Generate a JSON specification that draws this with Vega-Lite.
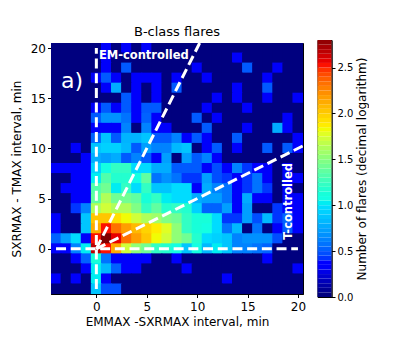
{"$schema":"https://vega.github.io/schema/vega-lite/v6.json","padding":{"left":9,"top":25,"right":0,"bottom":0},"background":"white","spacing":14.5,"center":true,"bounds":"flush","config":{"font":"DejaVu Sans","view":{"stroke":"black","strokeWidth":1}},"datasets":{"cells":[
{"x":-4,"y":20,"v":0},{"x":-3,"y":20,"v":0},{"x":-2,"y":20,"v":0},{"x":-1,"y":20,"v":0},{"x":0,"y":20,"v":0},{"x":1,"y":20,"v":0.3},{"x":2,"y":20,"v":0},{"x":3,"y":20,"v":0.3},{"x":4,"y":20,"v":0},{"x":5,"y":20,"v":0.3},{"x":6,"y":20,"v":0},{"x":7,"y":20,"v":0},{"x":8,"y":20,"v":0},{"x":9,"y":20,"v":0},{"x":10,"y":20,"v":0},{"x":11,"y":20,"v":0},{"x":12,"y":20,"v":0},{"x":13,"y":20,"v":0},{"x":14,"y":20,"v":0},{"x":15,"y":20,"v":0},{"x":16,"y":20,"v":0},{"x":17,"y":20,"v":0},{"x":18,"y":20,"v":0},{"x":19,"y":20,"v":0},{"x":20,"y":20,"v":0},
{"x":-4,"y":19,"v":0},{"x":-3,"y":19,"v":0},{"x":-2,"y":19,"v":0},{"x":-1,"y":19,"v":0},{"x":0,"y":19,"v":0},{"x":1,"y":19,"v":0.3},{"x":2,"y":19,"v":0},{"x":3,"y":19,"v":0},{"x":4,"y":19,"v":0},{"x":5,"y":19,"v":0},{"x":6,"y":19,"v":0},{"x":7,"y":19,"v":0},{"x":8,"y":19,"v":0},{"x":9,"y":19,"v":0},{"x":10,"y":19,"v":0},{"x":11,"y":19,"v":0},{"x":12,"y":19,"v":0},{"x":13,"y":19,"v":0},{"x":14,"y":19,"v":0.3},{"x":15,"y":19,"v":0},{"x":16,"y":19,"v":0},{"x":17,"y":19,"v":0},{"x":18,"y":19,"v":0},{"x":19,"y":19,"v":0},{"x":20,"y":19,"v":0},
{"x":-4,"y":18,"v":0},{"x":-3,"y":18,"v":0},{"x":-2,"y":18,"v":0},{"x":-1,"y":18,"v":0},{"x":0,"y":18,"v":0},{"x":1,"y":18,"v":0.3},{"x":2,"y":18,"v":0},{"x":3,"y":18,"v":0.48},{"x":4,"y":18,"v":0},{"x":5,"y":18,"v":0},{"x":6,"y":18,"v":0},{"x":7,"y":18,"v":0},{"x":8,"y":18,"v":0},{"x":9,"y":18,"v":0},{"x":10,"y":18,"v":0.3},{"x":11,"y":18,"v":0},{"x":12,"y":18,"v":0},{"x":13,"y":18,"v":0},{"x":14,"y":18,"v":0},{"x":15,"y":18,"v":0.48},{"x":16,"y":18,"v":0},{"x":17,"y":18,"v":0},{"x":18,"y":18,"v":0.3},{"x":19,"y":18,"v":0},{"x":20,"y":18,"v":0},
{"x":-4,"y":17,"v":0},{"x":-3,"y":17,"v":0},{"x":-2,"y":17,"v":0},{"x":-1,"y":17,"v":0},{"x":0,"y":17,"v":0.3},{"x":1,"y":17,"v":0.48},{"x":2,"y":17,"v":0.3},{"x":3,"y":17,"v":0},{"x":4,"y":17,"v":0.3},{"x":5,"y":17,"v":0.3},{"x":6,"y":17,"v":0.3},{"x":7,"y":17,"v":0},{"x":8,"y":17,"v":0.3},{"x":9,"y":17,"v":0},{"x":10,"y":17,"v":0},{"x":11,"y":17,"v":0.3},{"x":12,"y":17,"v":0},{"x":13,"y":17,"v":0},{"x":14,"y":17,"v":0},{"x":15,"y":17,"v":0},{"x":16,"y":17,"v":0},{"x":17,"y":17,"v":0.3},{"x":18,"y":17,"v":0},{"x":19,"y":17,"v":0},{"x":20,"y":17,"v":0},
{"x":-4,"y":16,"v":0},{"x":-3,"y":16,"v":0},{"x":-2,"y":16,"v":0},{"x":-1,"y":16,"v":0},{"x":0,"y":16,"v":0},{"x":1,"y":16,"v":0.3},{"x":2,"y":16,"v":0.75},{"x":3,"y":16,"v":0},{"x":4,"y":16,"v":0.3},{"x":5,"y":16,"v":0},{"x":6,"y":16,"v":0.3},{"x":7,"y":16,"v":0},{"x":8,"y":16,"v":0.48},{"x":9,"y":16,"v":0},{"x":10,"y":16,"v":0},{"x":11,"y":16,"v":0},{"x":12,"y":16,"v":0},{"x":13,"y":16,"v":0},{"x":14,"y":16,"v":0.3},{"x":15,"y":16,"v":0},{"x":16,"y":16,"v":0},{"x":17,"y":16,"v":0.48},{"x":18,"y":16,"v":0},{"x":19,"y":16,"v":0},{"x":20,"y":16,"v":0},
{"x":-4,"y":15,"v":0},{"x":-3,"y":15,"v":0},{"x":-2,"y":15,"v":0},{"x":-1,"y":15,"v":0},{"x":0,"y":15,"v":0},{"x":1,"y":15,"v":0},{"x":2,"y":15,"v":0},{"x":3,"y":15,"v":0.48},{"x":4,"y":15,"v":0.3},{"x":5,"y":15,"v":0},{"x":6,"y":15,"v":0.3},{"x":7,"y":15,"v":0},{"x":8,"y":15,"v":0},{"x":9,"y":15,"v":0},{"x":10,"y":15,"v":0},{"x":11,"y":15,"v":0},{"x":12,"y":15,"v":0.3},{"x":13,"y":15,"v":0},{"x":14,"y":15,"v":0.3},{"x":15,"y":15,"v":0},{"x":16,"y":15,"v":0},{"x":17,"y":15,"v":0.3},{"x":18,"y":15,"v":0},{"x":19,"y":15,"v":0},{"x":20,"y":15,"v":0.3},
{"x":-4,"y":14,"v":0},{"x":-3,"y":14,"v":0},{"x":-2,"y":14,"v":0},{"x":-1,"y":14,"v":0},{"x":0,"y":14,"v":0.3},{"x":1,"y":14,"v":0.48},{"x":2,"y":14,"v":0.3},{"x":3,"y":14,"v":0.48},{"x":4,"y":14,"v":0.3},{"x":5,"y":14,"v":0.48},{"x":6,"y":14,"v":0.48},{"x":7,"y":14,"v":0},{"x":8,"y":14,"v":0},{"x":9,"y":14,"v":0},{"x":10,"y":14,"v":0},{"x":11,"y":14,"v":0.3},{"x":12,"y":14,"v":0},{"x":13,"y":14,"v":0},{"x":14,"y":14,"v":0},{"x":15,"y":14,"v":0.3},{"x":16,"y":14,"v":0},{"x":17,"y":14,"v":0},{"x":18,"y":14,"v":0},{"x":19,"y":14,"v":0},{"x":20,"y":14,"v":0},
{"x":-4,"y":13,"v":0},{"x":-3,"y":13,"v":0},{"x":-2,"y":13,"v":0},{"x":-1,"y":13,"v":0},{"x":0,"y":13,"v":0.48},{"x":1,"y":13,"v":0.65},{"x":2,"y":13,"v":0.65},{"x":3,"y":13,"v":0.55},{"x":4,"y":13,"v":0.3},{"x":5,"y":13,"v":0.5},{"x":6,"y":13,"v":0.3},{"x":7,"y":13,"v":0},{"x":8,"y":13,"v":0},{"x":9,"y":13,"v":0},{"x":10,"y":13,"v":0.48},{"x":11,"y":13,"v":0},{"x":12,"y":13,"v":0.3},{"x":13,"y":13,"v":0},{"x":14,"y":13,"v":0},{"x":15,"y":13,"v":0},{"x":16,"y":13,"v":0},{"x":17,"y":13,"v":0},{"x":18,"y":13,"v":0},{"x":19,"y":13,"v":0.3},{"x":20,"y":13,"v":0},
{"x":-4,"y":12,"v":0},{"x":-3,"y":12,"v":0},{"x":-2,"y":12,"v":0},{"x":-1,"y":12,"v":0},{"x":0,"y":12,"v":0.3},{"x":1,"y":12,"v":0.3},{"x":2,"y":12,"v":0.3},{"x":3,"y":12,"v":0.6},{"x":4,"y":12,"v":0},{"x":5,"y":12,"v":0.6},{"x":6,"y":12,"v":0.3},{"x":7,"y":12,"v":0.3},{"x":8,"y":12,"v":0},{"x":9,"y":12,"v":0},{"x":10,"y":12,"v":0},{"x":11,"y":12,"v":0.48},{"x":12,"y":12,"v":0},{"x":13,"y":12,"v":0},{"x":14,"y":12,"v":0},{"x":15,"y":12,"v":0.3},{"x":16,"y":12,"v":0},{"x":17,"y":12,"v":0},{"x":18,"y":12,"v":0.75},{"x":19,"y":12,"v":0.3},{"x":20,"y":12,"v":0},
{"x":-4,"y":11,"v":0},{"x":-3,"y":11,"v":0},{"x":-2,"y":11,"v":0},{"x":-1,"y":11,"v":0},{"x":0,"y":11,"v":0.5},{"x":1,"y":11,"v":0.85},{"x":2,"y":11,"v":0.48},{"x":3,"y":11,"v":0.78},{"x":4,"y":11,"v":0.78},{"x":5,"y":11,"v":0.85},{"x":6,"y":11,"v":0.48},{"x":7,"y":11,"v":0.48},{"x":8,"y":11,"v":0.6},{"x":9,"y":11,"v":0.3},{"x":10,"y":11,"v":0.48},{"x":11,"y":11,"v":0.3},{"x":12,"y":11,"v":0},{"x":13,"y":11,"v":0},{"x":14,"y":11,"v":0.48},{"x":15,"y":11,"v":0},{"x":16,"y":11,"v":0},{"x":17,"y":11,"v":0},{"x":18,"y":11,"v":0},{"x":19,"y":11,"v":0},{"x":20,"y":11,"v":0.3},
{"x":-4,"y":10,"v":0},{"x":-3,"y":10,"v":0},{"x":-2,"y":10,"v":0.3},{"x":-1,"y":10,"v":0},{"x":0,"y":10,"v":0.85},{"x":1,"y":10,"v":0.9},{"x":2,"y":10,"v":0.9},{"x":3,"y":10,"v":0.8},{"x":4,"y":10,"v":0.48},{"x":5,"y":10,"v":0.7},{"x":6,"y":10,"v":0.6},{"x":7,"y":10,"v":0.6},{"x":8,"y":10,"v":0.8},{"x":9,"y":10,"v":0.85},{"x":10,"y":10,"v":0},{"x":11,"y":10,"v":0.3},{"x":12,"y":10,"v":0.48},{"x":13,"y":10,"v":0},{"x":14,"y":10,"v":0.3},{"x":15,"y":10,"v":0},{"x":16,"y":10,"v":0},{"x":17,"y":10,"v":0.48},{"x":18,"y":10,"v":0},{"x":19,"y":10,"v":0.48},{"x":20,"y":10,"v":0.3},
{"x":-4,"y":9,"v":0},{"x":-3,"y":9,"v":0},{"x":-2,"y":9,"v":0},{"x":-1,"y":9,"v":0.3},{"x":0,"y":9,"v":0.75},{"x":1,"y":9,"v":0.7},{"x":2,"y":9,"v":0.75},{"x":3,"y":9,"v":0.48},{"x":4,"y":9,"v":0.6},{"x":5,"y":9,"v":0.48},{"x":6,"y":9,"v":0.3},{"x":7,"y":9,"v":0.7},{"x":8,"y":9,"v":0},{"x":9,"y":9,"v":0.7},{"x":10,"y":9,"v":0.48},{"x":11,"y":9,"v":0.6},{"x":12,"y":9,"v":0.3},{"x":13,"y":9,"v":0},{"x":14,"y":9,"v":0},{"x":15,"y":9,"v":0},{"x":16,"y":9,"v":0},{"x":17,"y":9,"v":0},{"x":18,"y":9,"v":0},{"x":19,"y":9,"v":0},{"x":20,"y":9,"v":0},
{"x":-4,"y":8,"v":0.3},{"x":-3,"y":8,"v":0.3},{"x":-2,"y":8,"v":0.3},{"x":-1,"y":8,"v":0.3},{"x":0,"y":8,"v":0.9},{"x":1,"y":8,"v":1.05},{"x":2,"y":8,"v":1.2},{"x":3,"y":8,"v":1.2},{"x":4,"y":8,"v":0.95},{"x":5,"y":8,"v":0.95},{"x":6,"y":8,"v":0.75},{"x":7,"y":8,"v":0.75},{"x":8,"y":8,"v":0.48},{"x":9,"y":8,"v":0.48},{"x":10,"y":8,"v":0.48},{"x":11,"y":8,"v":0.3},{"x":12,"y":8,"v":0.45},{"x":13,"y":8,"v":0.3},{"x":14,"y":8,"v":0.6},{"x":15,"y":8,"v":0.4},{"x":16,"y":8,"v":0.35},{"x":17,"y":8,"v":0.3},{"x":18,"y":8,"v":0},{"x":19,"y":8,"v":0.3},{"x":20,"y":8,"v":0},
{"x":-4,"y":7,"v":0},{"x":-3,"y":7,"v":0},{"x":-2,"y":7,"v":0.3},{"x":-1,"y":7,"v":0.3},{"x":0,"y":7,"v":1.0},{"x":1,"y":7,"v":1.3},{"x":2,"y":7,"v":1.15},{"x":3,"y":7,"v":1.15},{"x":4,"y":7,"v":1.05},{"x":5,"y":7,"v":1.35},{"x":6,"y":7,"v":0.55},{"x":7,"y":7,"v":0.65},{"x":8,"y":7,"v":0.55},{"x":9,"y":7,"v":0.4},{"x":10,"y":7,"v":0.4},{"x":11,"y":7,"v":0.7},{"x":12,"y":7,"v":0.45},{"x":13,"y":7,"v":0.4},{"x":14,"y":7,"v":0.3},{"x":15,"y":7,"v":0.4},{"x":16,"y":7,"v":0.55},{"x":17,"y":7,"v":0.3},{"x":18,"y":7,"v":0},{"x":19,"y":7,"v":0.3},{"x":20,"y":7,"v":0.3},
{"x":-4,"y":6,"v":0},{"x":-3,"y":6,"v":0.3},{"x":-2,"y":6,"v":0.3},{"x":-1,"y":6,"v":0.3},{"x":0,"y":6,"v":1.3},{"x":1,"y":6,"v":1.4},{"x":2,"y":6,"v":1.0},{"x":3,"y":6,"v":1.2},{"x":4,"y":6,"v":0.95},{"x":5,"y":6,"v":1.2},{"x":6,"y":6,"v":0.85},{"x":7,"y":6,"v":0.85},{"x":8,"y":6,"v":0.95},{"x":9,"y":6,"v":0.95},{"x":10,"y":6,"v":0.3},{"x":11,"y":6,"v":0.75},{"x":12,"y":6,"v":0.6},{"x":13,"y":6,"v":0.55},{"x":14,"y":6,"v":0.3},{"x":15,"y":6,"v":0.4},{"x":16,"y":6,"v":0.55},{"x":17,"y":6,"v":0.4},{"x":18,"y":6,"v":0},{"x":19,"y":6,"v":0.3},{"x":20,"y":6,"v":0},
{"x":-4,"y":5,"v":0},{"x":-3,"y":5,"v":0},{"x":-2,"y":5,"v":0.3},{"x":-1,"y":5,"v":0.3},{"x":0,"y":5,"v":1.35},{"x":1,"y":5,"v":1.6},{"x":2,"y":5,"v":1.4},{"x":3,"y":5,"v":1.4},{"x":4,"y":5,"v":1.35},{"x":5,"y":5,"v":1.1},{"x":6,"y":5,"v":1.2},{"x":7,"y":5,"v":1.0},{"x":8,"y":5,"v":0.95},{"x":9,"y":5,"v":0.95},{"x":10,"y":5,"v":0.75},{"x":11,"y":5,"v":0.7},{"x":12,"y":5,"v":0.7},{"x":13,"y":5,"v":0.55},{"x":14,"y":5,"v":0.3},{"x":15,"y":5,"v":0.75},{"x":16,"y":5,"v":0.3},{"x":17,"y":5,"v":0.3},{"x":18,"y":5,"v":0},{"x":19,"y":5,"v":0.3},{"x":20,"y":5,"v":0.3},
{"x":-4,"y":4,"v":0},{"x":-3,"y":4,"v":0},{"x":-2,"y":4,"v":0.4},{"x":-1,"y":4,"v":0.6},{"x":0,"y":4,"v":1.6},{"x":1,"y":4,"v":1.7},{"x":2,"y":4,"v":1.6},{"x":3,"y":4,"v":1.6},{"x":4,"y":4,"v":1.45},{"x":5,"y":4,"v":1.2},{"x":6,"y":4,"v":1.35},{"x":7,"y":4,"v":1.15},{"x":8,"y":4,"v":1.2},{"x":9,"y":4,"v":1.15},{"x":10,"y":4,"v":0.9},{"x":11,"y":4,"v":0.5},{"x":12,"y":4,"v":0.5},{"x":13,"y":4,"v":0.7},{"x":14,"y":4,"v":0.3},{"x":15,"y":4,"v":0.7},{"x":16,"y":4,"v":0},{"x":17,"y":4,"v":0},{"x":18,"y":4,"v":0.4},{"x":19,"y":4,"v":0.3},{"x":20,"y":4,"v":0.3},
{"x":-4,"y":3,"v":0.3},{"x":-3,"y":3,"v":0},{"x":-2,"y":3,"v":0},{"x":-1,"y":3,"v":0.85},{"x":0,"y":3,"v":2.0},{"x":1,"y":3,"v":2.0},{"x":2,"y":3,"v":1.9},{"x":3,"y":3,"v":1.8},{"x":4,"y":3,"v":1.7},{"x":5,"y":3,"v":1.6},{"x":6,"y":3,"v":1.55},{"x":7,"y":3,"v":1.45},{"x":8,"y":3,"v":1.4},{"x":9,"y":3,"v":1.2},{"x":10,"y":3,"v":1.1},{"x":11,"y":3,"v":1.1},{"x":12,"y":3,"v":0.95},{"x":13,"y":3,"v":0.4},{"x":14,"y":3,"v":0.4},{"x":15,"y":3,"v":0.7},{"x":16,"y":3,"v":0.45},{"x":17,"y":3,"v":0.8},{"x":18,"y":3,"v":0.4},{"x":19,"y":3,"v":0.5},{"x":20,"y":3,"v":0.3},
{"x":-4,"y":2,"v":0.3},{"x":-3,"y":2,"v":0},{"x":-2,"y":2,"v":0},{"x":-1,"y":2,"v":0.85},{"x":0,"y":2,"v":2.1},{"x":1,"y":2,"v":2.5},{"x":2,"y":2,"v":2.3},{"x":3,"y":2,"v":2.15},{"x":4,"y":2,"v":2.05},{"x":5,"y":2,"v":1.95},{"x":6,"y":2,"v":1.85},{"x":7,"y":2,"v":1.75},{"x":8,"y":2,"v":1.5},{"x":9,"y":2,"v":1.2},{"x":10,"y":2,"v":1.1},{"x":11,"y":2,"v":1.05},{"x":12,"y":2,"v":0.95},{"x":13,"y":2,"v":0.55},{"x":14,"y":2,"v":0.8},{"x":15,"y":2,"v":0},{"x":16,"y":2,"v":0.55},{"x":17,"y":2,"v":0},{"x":18,"y":2,"v":0.3},{"x":19,"y":2,"v":0.48},{"x":20,"y":2,"v":0.3},
{"x":-4,"y":1,"v":0.5},{"x":-3,"y":1,"v":0.7},{"x":-2,"y":1,"v":0.95},{"x":-1,"y":1,"v":0.3},{"x":0,"y":1,"v":2.5},{"x":1,"y":1,"v":2.8},{"x":2,"y":1,"v":2.55},{"x":3,"y":1,"v":2.3},{"x":4,"y":1,"v":2.15},{"x":5,"y":1,"v":2.0},{"x":6,"y":1,"v":1.8},{"x":7,"y":1,"v":1.7},{"x":8,"y":1,"v":1.5},{"x":9,"y":1,"v":1.4},{"x":10,"y":1,"v":1.15},{"x":11,"y":1,"v":0.95},{"x":12,"y":1,"v":0.9},{"x":13,"y":1,"v":0.85},{"x":14,"y":1,"v":0.6},{"x":15,"y":1,"v":0.65},{"x":16,"y":1,"v":0.65},{"x":17,"y":1,"v":0.65},{"x":18,"y":1,"v":0.45},{"x":19,"y":1,"v":0},{"x":20,"y":1,"v":0},
{"x":-4,"y":0,"v":0.3},{"x":-3,"y":0,"v":0.3},{"x":-2,"y":0,"v":0.6},{"x":-1,"y":0,"v":1.0},{"x":0,"y":0,"v":2.65},{"x":1,"y":0,"v":2.5},{"x":2,"y":0,"v":2.1},{"x":3,"y":0,"v":1.7},{"x":4,"y":0,"v":1.5},{"x":5,"y":0,"v":1.4},{"x":6,"y":0,"v":1.2},{"x":7,"y":0,"v":1.15},{"x":8,"y":0,"v":1.05},{"x":9,"y":0,"v":0.85},{"x":10,"y":0,"v":1.05},{"x":11,"y":0,"v":0.8},{"x":12,"y":0,"v":1.0},{"x":13,"y":0,"v":0.85},{"x":14,"y":0,"v":0.6},{"x":15,"y":0,"v":0.6},{"x":16,"y":0,"v":0.55},{"x":17,"y":0,"v":0.5},{"x":18,"y":0,"v":0},{"x":19,"y":0,"v":0},{"x":20,"y":0,"v":0},
{"x":-4,"y":-1,"v":0},{"x":-3,"y":-1,"v":0},{"x":-2,"y":-1,"v":0.3},{"x":-1,"y":-1,"v":0.5},{"x":0,"y":-1,"v":1.1},{"x":1,"y":-1,"v":0.55},{"x":2,"y":-1,"v":0.3},{"x":3,"y":-1,"v":0.3},{"x":4,"y":-1,"v":0.3},{"x":5,"y":-1,"v":0.3},{"x":6,"y":-1,"v":0},{"x":7,"y":-1,"v":0},{"x":8,"y":-1,"v":0.3},{"x":9,"y":-1,"v":0},{"x":10,"y":-1,"v":0},{"x":11,"y":-1,"v":0},{"x":12,"y":-1,"v":0},{"x":13,"y":-1,"v":0},{"x":14,"y":-1,"v":0},{"x":15,"y":-1,"v":0},{"x":16,"y":-1,"v":0},{"x":17,"y":-1,"v":0.3},{"x":18,"y":-1,"v":0},{"x":19,"y":-1,"v":0},{"x":20,"y":-1,"v":0},
{"x":-4,"y":-2,"v":0},{"x":-3,"y":-2,"v":0},{"x":-2,"y":-2,"v":0},{"x":-1,"y":-2,"v":0.3},{"x":0,"y":-2,"v":1.0},{"x":1,"y":-2,"v":0.8},{"x":2,"y":-2,"v":0.5},{"x":3,"y":-2,"v":0.3},{"x":4,"y":-2,"v":0.3},{"x":5,"y":-2,"v":0},{"x":6,"y":-2,"v":0},{"x":7,"y":-2,"v":0},{"x":8,"y":-2,"v":0},{"x":9,"y":-2,"v":0.3},{"x":10,"y":-2,"v":0},{"x":11,"y":-2,"v":0},{"x":12,"y":-2,"v":0},{"x":13,"y":-2,"v":0},{"x":14,"y":-2,"v":0},{"x":15,"y":-2,"v":0},{"x":16,"y":-2,"v":0},{"x":17,"y":-2,"v":0},{"x":18,"y":-2,"v":0},{"x":19,"y":-2,"v":0},{"x":20,"y":-2,"v":0.3},
{"x":-4,"y":-3,"v":0.3},{"x":-3,"y":-3,"v":0},{"x":-2,"y":-3,"v":0.3},{"x":-1,"y":-3,"v":0},{"x":0,"y":-3,"v":1.0},{"x":1,"y":-3,"v":0.3},{"x":2,"y":-3,"v":0},{"x":3,"y":-3,"v":0},{"x":4,"y":-3,"v":0},{"x":5,"y":-3,"v":0},{"x":6,"y":-3,"v":0},{"x":7,"y":-3,"v":0},{"x":8,"y":-3,"v":0},{"x":9,"y":-3,"v":0},{"x":10,"y":-3,"v":0},{"x":11,"y":-3,"v":0},{"x":12,"y":-3,"v":0},{"x":13,"y":-3,"v":0.3},{"x":14,"y":-3,"v":0},{"x":15,"y":-3,"v":0},{"x":16,"y":-3,"v":0},{"x":17,"y":-3,"v":0},{"x":18,"y":-3,"v":0},{"x":19,"y":-3,"v":0},{"x":20,"y":-3,"v":0},
{"x":-4,"y":-4,"v":0},{"x":-3,"y":-4,"v":0},{"x":-2,"y":-4,"v":0},{"x":-1,"y":-4,"v":0},{"x":0,"y":-4,"v":0.85},{"x":1,"y":-4,"v":0.45},{"x":2,"y":-4,"v":0.45},{"x":3,"y":-4,"v":0},{"x":4,"y":-4,"v":0},{"x":5,"y":-4,"v":0},{"x":6,"y":-4,"v":0},{"x":7,"y":-4,"v":0},{"x":8,"y":-4,"v":0},{"x":9,"y":-4,"v":0},{"x":10,"y":-4,"v":0},{"x":11,"y":-4,"v":0},{"x":12,"y":-4,"v":0},{"x":13,"y":-4,"v":0},{"x":14,"y":-4,"v":0},{"x":15,"y":-4,"v":0},{"x":16,"y":-4,"v":0},{"x":17,"y":-4,"v":0},{"x":18,"y":-4,"v":0},{"x":19,"y":-4,"v":0},{"x":20,"y":-4,"v":0}
],"guides":[{"g":"em","x":0,"y":-4},{"g":"em","x":0,"y":20},{"g":"t","x":-4,"y":0},{"g":"t","x":20,"y":0},{"g":"d1","x":0,"y":0},{"g":"d1","x":10.25,"y":20.5},{"g":"d2","x":0,"y":0},{"g":"d2","x":20.5,"y":10.25}],
"bar":[{"lo":0,"hi":0.05},{"lo":0.05,"hi":0.1},{"lo":0.1,"hi":0.15},{"lo":0.15,"hi":0.2},{"lo":0.2,"hi":0.25},{"lo":0.25,"hi":0.3},{"lo":0.3,"hi":0.35},{"lo":0.35,"hi":0.4},{"lo":0.4,"hi":0.45},{"lo":0.45,"hi":0.5},{"lo":0.5,"hi":0.55},{"lo":0.55,"hi":0.6},{"lo":0.6,"hi":0.65},{"lo":0.65,"hi":0.7},{"lo":0.7,"hi":0.75},{"lo":0.75,"hi":0.8},{"lo":0.8,"hi":0.85},{"lo":0.85,"hi":0.9},{"lo":0.9,"hi":0.95},{"lo":0.95,"hi":1.0},{"lo":1.0,"hi":1.05},{"lo":1.05,"hi":1.1},{"lo":1.1,"hi":1.15},{"lo":1.15,"hi":1.2},{"lo":1.2,"hi":1.25},{"lo":1.25,"hi":1.3},{"lo":1.3,"hi":1.35},{"lo":1.35,"hi":1.4},{"lo":1.4,"hi":1.45},{"lo":1.45,"hi":1.5},{"lo":1.5,"hi":1.55},{"lo":1.55,"hi":1.6},{"lo":1.6,"hi":1.65},{"lo":1.65,"hi":1.7},{"lo":1.7,"hi":1.75},{"lo":1.75,"hi":1.8},{"lo":1.8,"hi":1.85},{"lo":1.85,"hi":1.9},{"lo":1.9,"hi":1.95},{"lo":1.95,"hi":2.0},{"lo":2.0,"hi":2.05},{"lo":2.05,"hi":2.1},{"lo":2.1,"hi":2.15},{"lo":2.15,"hi":2.2},{"lo":2.2,"hi":2.25},{"lo":2.25,"hi":2.3},{"lo":2.3,"hi":2.35},{"lo":2.35,"hi":2.4},{"lo":2.4,"hi":2.45},{"lo":2.45,"hi":2.5},{"lo":2.5,"hi":2.55},{"lo":2.55,"hi":2.6},{"lo":2.6,"hi":2.65},{"lo":2.65,"hi":2.7},{"lo":2.7,"hi":2.75},{"lo":2.75,"hi":2.8}]},
"hconcat":[{"width":252,"height":251,"view":{"fill":"#00007f","stroke":"black","strokeWidth":1},"title":{"text":"B-class flares","fontSize":13,"fontWeight":"normal","offset":3,"anchor":"middle"},
"layer":[
{"data":{"name":"cells"},"mark":{"type":"rect","width":11,"height":11,"clip":true,"strokeWidth":0},"encoding":{"x":{"field":"x","type":"quantitative","scale":{"domain":[-4.5,20.5],"nice":false,"zero":false},"axis":{"values":[0,5,10,15,20],"title":"EMMAX -SXRMAX interval, min","titleFontSize":12,"titleFontWeight":"normal","titleColor":"black","labelFontSize":12,"labelColor":"black","tickColor":"black","domainColor":"black","grid":false,"tickSize":3.5,"titlePadding":4,"labelPadding":4}},"y":{"field":"y","type":"quantitative","scale":{"domain":[-4.5,20.5],"nice":false,"zero":false},"axis":{"values":[0,5,10,15,20],"title":"SXRMAX - TMAX interval, min","titleFontSize":12,"titleFontWeight":"normal","titleColor":"black","labelFontSize":12,"labelColor":"black","tickColor":"black","domainColor":"black","grid":false,"tickSize":3.5,"titlePadding":7,"labelPadding":2}},"color":{"field":"v","type":"quantitative","legend":null,"scale":{"domain":[0,0.308,0.35,0.952,0.98,1.05,1.792,1.82,1.848,2.492,2.548,2.8],"range":["#00007f","#0000ff","#0000ff","#00dcff","#00e5f6","#14ffe2","#eeff08","#f7f600","#ffec00","#ff1300","#e80000","#7f0000"]}}}},
{"data":{"name":"guides"},"mark":{"type":"line","color":"white","strokeWidth":3,"strokeDash":[10,4.7],"clip":true},"encoding":{"detail":{"field":"g"},"x":{"field":"x","type":"quantitative"},"y":{"field":"y","type":"quantitative"}}},
{"data":{"values":[{"x":-3.5,"y":16.7,"t":"a)"}]},"mark":{"type":"text","color":"white","fontSize":22,"align":"left","baseline":"middle"},"encoding":{"x":{"field":"x","type":"quantitative"},"y":{"field":"y","type":"quantitative"},"text":{"field":"t"}}},
{"data":{"values":[{"x":0.25,"y":19.2,"t":"EM-controlled"}]},"mark":{"type":"text","color":"white","fontSize":11.5,"fontWeight":"bold","align":"left","baseline":"middle"},"encoding":{"x":{"field":"x","type":"quantitative"},"y":{"field":"y","type":"quantitative"},"text":{"field":"t"}}},
{"data":{"values":[{"x":19.1,"y":0.9,"t":"T-controlled"}]},"mark":{"type":"text","color":"white","fontSize":11.5,"fontWeight":"bold","align":"left","baseline":"middle","angle":270},"encoding":{"x":{"field":"x","type":"quantitative"},"y":{"field":"y","type":"quantitative"},"text":{"field":"t"}}}
]},
{"width":14,"height":257,"data":{"name":"bar"},"mark":{"type":"rect","strokeWidth":0},"encoding":{"y":{"field":"lo","type":"quantitative","scale":{"domain":[0,2.8],"nice":false},"axis":{"orient":"right","values":[0,0.5,1,1.5,2,2.5],"format":".1f","title":"Number of flares (decimal logarithm)","titleAngle":270,"titleFontSize":12,"titleFontWeight":"normal","titleColor":"black","labelFontSize":10,"labelColor":"black","tickColor":"black","domainColor":"black","grid":false,"tickSize":3.5,"labelPadding":2,"titlePadding":16}},"y2":{"field":"hi"},"color":{"field":"lo","type":"quantitative","legend":null,"scale":{"domain":[0,0.308,0.35,0.952,0.98,1.05,1.792,1.82,1.848,2.492,2.548,2.8],"range":["#00007f","#0000ff","#0000ff","#00dcff","#00e5f6","#14ffe2","#eeff08","#f7f600","#ffec00","#ff1300","#e80000","#7f0000"]}}}}
]}
